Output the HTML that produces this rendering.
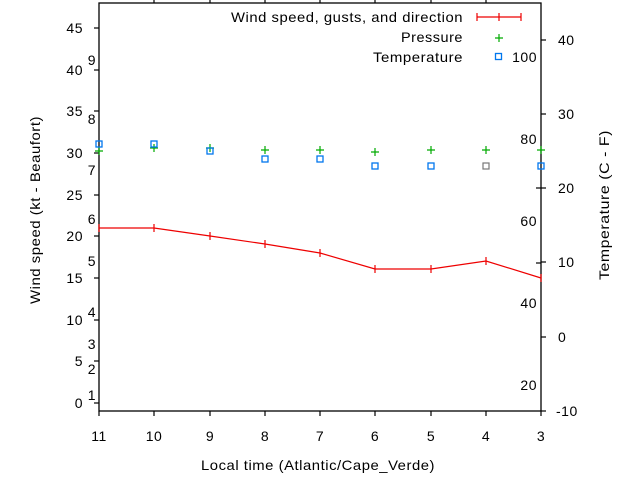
<!DOCTYPE html>
<html><head><style>body{margin:0;background:#fff}svg{display:block}text{font-family:"Liberation Sans",sans-serif;font-size:14px;fill:#000;letter-spacing:0.5px}</style></head>
<body>
<svg width="640" height="480" xmlns="http://www.w3.org/2000/svg">
<rect x="99" y="3" width="442" height="408" fill="none" stroke="#000" stroke-width="1.3"/>
<g stroke="#000" stroke-width="1.2">
<line x1="94" y1="403" x2="99" y2="403"/><line x1="94" y1="361" x2="99" y2="361"/><line x1="94" y1="320" x2="99" y2="320"/><line x1="94" y1="278" x2="99" y2="278"/><line x1="94" y1="236" x2="99" y2="236"/><line x1="94" y1="195" x2="99" y2="195"/><line x1="94" y1="153" x2="99" y2="153"/><line x1="94" y1="111" x2="99" y2="111"/><line x1="94" y1="70" x2="99" y2="70"/><line x1="94" y1="28" x2="99" y2="28"/>
<line x1="99" y1="411" x2="99" y2="416"/><line x1="154" y1="411" x2="154" y2="416"/><line x1="210" y1="411" x2="210" y2="416"/><line x1="265" y1="411" x2="265" y2="416"/><line x1="320" y1="411" x2="320" y2="416"/><line x1="375" y1="411" x2="375" y2="416"/><line x1="431" y1="411" x2="431" y2="416"/><line x1="486" y1="411" x2="486" y2="416"/><line x1="541" y1="411" x2="541" y2="416"/>
<line x1="154" y1="3" x2="154" y2="-2"/><line x1="210" y1="3" x2="210" y2="-2"/><line x1="265" y1="3" x2="265" y2="-2"/><line x1="320" y1="3" x2="320" y2="-2"/><line x1="375" y1="3" x2="375" y2="-2"/><line x1="431" y1="3" x2="431" y2="-2"/><line x1="486" y1="3" x2="486" y2="-2"/>
<line x1="541" y1="40" x2="546" y2="40"/><line x1="541" y1="114" x2="546" y2="114"/><line x1="541" y1="188" x2="546" y2="188"/><line x1="541" y1="262" x2="546" y2="262"/><line x1="541" y1="337" x2="546" y2="337"/><line x1="541" y1="411" x2="546" y2="411"/>
<line x1="536" y1="188" x2="541" y2="188"/><line x1="536" y1="263" x2="541" y2="263"/>
</g>
<g text-anchor="end">
<text x="83" y="408">0</text><text x="83" y="366">5</text><text x="83" y="325">10</text><text x="83" y="283">15</text><text x="83" y="241">20</text><text x="83" y="200">25</text><text x="83" y="158">30</text><text x="83" y="116">35</text><text x="83" y="75">40</text><text x="83" y="33">45</text>
<text x="96" y="400">1</text><text x="96" y="374">2</text><text x="96" y="349">3</text><text x="96" y="317">4</text><text x="96" y="266">5</text><text x="96" y="224">6</text><text x="96" y="175">7</text><text x="96" y="124">8</text><text x="96" y="65">9</text>
<text x="537" y="62">100</text><text x="537" y="144">80</text><text x="537" y="226">60</text><text x="537" y="308">40</text><text x="537" y="390">20</text>
</g>
<g>
<text x="558" y="45">40</text><text x="558" y="119">30</text><text x="558" y="193">20</text><text x="558" y="267">10</text><text x="558" y="342">0</text><text x="556" y="416">-10</text>
</g>
<g text-anchor="middle">
<text x="99" y="441">11</text><text x="154" y="441">10</text><text x="210" y="441">9</text><text x="265" y="441">8</text><text x="320" y="441">7</text><text x="375" y="441">6</text><text x="431" y="441">5</text><text x="486" y="441">4</text><text x="541" y="441">3</text>
</g>
<text x="201" y="470" textLength="234" lengthAdjust="spacingAndGlyphs">Local time (Atlantic/Cape_Verde)</text>
<text transform="translate(40,304) rotate(-90)" textLength="188" lengthAdjust="spacingAndGlyphs">Wind speed (kt - Beaufort)</text>
<text transform="translate(609,280) rotate(-90)" textLength="150" lengthAdjust="spacingAndGlyphs">Temperature (C - F)</text>
<text x="231" y="22" textLength="232" lengthAdjust="spacingAndGlyphs">Wind speed, gusts, and direction</text>
<text x="401" y="42" textLength="62" lengthAdjust="spacingAndGlyphs">Pressure</text>
<text x="373" y="62" textLength="90" lengthAdjust="spacingAndGlyphs">Temperature</text>
<g stroke="#e00" stroke-width="1.2" fill="none">
<line x1="477" y1="17" x2="521" y2="17"/><line x1="477" y1="13" x2="477" y2="21"/><line x1="521" y1="13" x2="521" y2="21"/><line x1="499" y1="13" x2="499" y2="21"/>
<polyline points="99,228 154,228 210,236 265,244 320,253 375,269 431,269 486,261 541,278"/>
<path d="M99 224v8M154 224v8M210 232v8M265 240v8M320 249v8M375 265v8M431 265v8M486 257v8M541 274v8"/>
</g>
<g stroke="#0a0" stroke-width="1.2">
<path d="M495 38h8M499 34v8"/>
<path d="M95 151h8M99 147v8 M150 148h8M154 144v8 M206 148h8M210 144v8 M261 150h8M265 146v8 M316 150h8M320 146v8 M371 152h8M375 148v8 M427 150h8M431 146v8 M482 150h8M486 146v8 M537 150h8M541 146v8"/>
</g>
<g stroke="#07e" stroke-width="1.3" fill="none">
<rect x="495.5" y="53.5" width="6" height="6"/>
<rect x="96" y="141" width="6" height="6"/><rect x="151" y="141" width="6" height="6"/><rect x="207" y="148" width="6" height="6"/><rect x="262" y="156" width="6" height="6"/><rect x="317" y="156" width="6" height="6"/><rect x="372" y="163" width="6" height="6"/><rect x="428" y="163" width="6" height="6"/><rect x="538" y="163" width="6" height="6"/>
</g>
<rect x="483" y="163" width="6" height="6" fill="none" stroke="#777" stroke-width="1.2"/>
</svg>
</body></html>
